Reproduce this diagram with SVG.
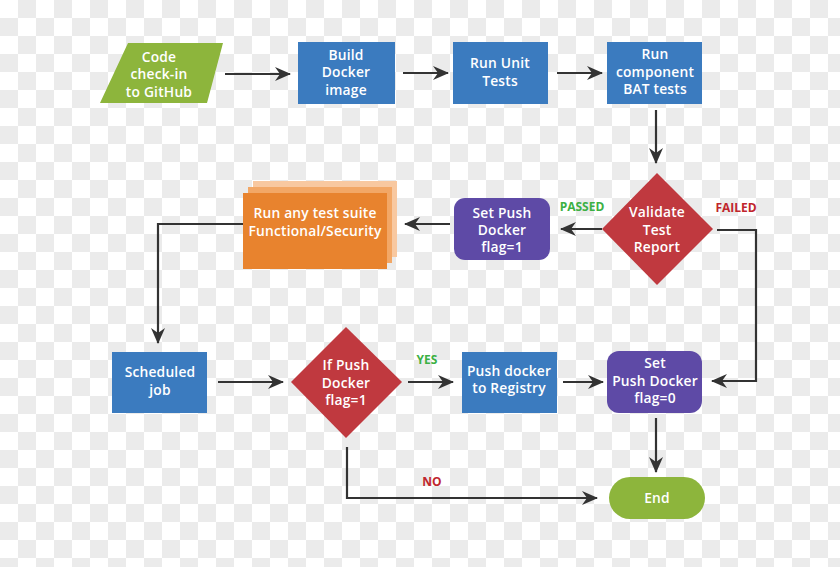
<svg xmlns="http://www.w3.org/2000/svg" width="840" height="567" viewBox="0 0 840 567">
<defs>
<pattern id="checker" x="0" y="0" width="36" height="36" patternUnits="userSpaceOnUse">
<rect width="36" height="36" fill="#ffffff"/>
<rect x="18" y="0" width="18" height="18" fill="#ebebeb"/>
<rect x="0" y="18" width="18" height="18" fill="#ebebeb"/>
</pattern>
<marker id="arr" markerUnits="userSpaceOnUse" viewBox="0 0 16 14" refX="15" refY="7" markerWidth="16" markerHeight="14" orient="auto">
<path d="M0,0 L16,7 L0,14 L5,7 Z" fill="#333333"/>
</marker>
</defs>
<style>
.t{font-family:"Open Sans","Liberation Sans",sans-serif;font-size:13.8px;font-weight:600;fill:#ffffff;text-anchor:middle;letter-spacing:0.2px}
.lbl{font-family:"Open Sans","Liberation Sans",sans-serif;font-size:12px;font-weight:700;text-anchor:middle}
.c{fill:none;stroke:#333333;stroke-width:2.2;marker-end:url(#arr)}
.blue{fill:#3b7bbf}
.red{fill:#c0393f}
.purple{fill:#5e4aa6}
.green{fill:#8db53c}
</style>
<rect width="840" height="567" fill="url(#checker)"/>

<g id="connectors">
<line class="c" x1="225" y1="74" x2="290" y2="74"/>
<line class="c" x1="403" y1="73" x2="448" y2="73"/>
<line class="c" x1="557" y1="73" x2="602" y2="73"/>
<line class="c" x1="656" y1="110" x2="656" y2="163"/>
<line class="c" x1="602" y1="229" x2="561" y2="229"/>
<polyline class="c" points="717,230 756,230 756,381 712,381"/>
<line class="c" x1="450" y1="224" x2="405" y2="224"/>
<polyline class="c" points="243,224 158,224 158,343"/>
<line class="c" x1="218" y1="382" x2="283" y2="382"/>
<line class="c" x1="408" y1="382" x2="453" y2="382"/>
<line class="c" x1="563" y1="382" x2="603" y2="382"/>
<line class="c" x1="656" y1="418" x2="656" y2="472"/>
<polyline class="c" points="347,447 347,498 597,498"/>
<text class="lbl" x="582" y="211" fill="#3cb043">PASSED</text>
<text class="lbl" x="736" y="212" fill="#c0262c">FAILED</text>
<text class="lbl" x="427" y="364" fill="#3cb043">YES</text>
<text class="lbl" x="432" y="486" fill="#c0262c">NO</text>
</g>

<g id="code-checkin">
<polygon class="green" points="128,43 223,43 207,103 100,103"/>
<text class="t" x="159" y="62">Code</text>
<text class="t" x="159" y="79">check-in</text>
<text class="t" x="159" y="97">to GitHub</text>
</g>

<g id="build-docker">
<rect class="blue" x="298" y="42" width="97" height="62"/>
<text class="t" x="346" y="60">Build</text>
<text class="t" x="346" y="77">Docker</text>
<text class="t" x="346" y="95">image</text>
</g>

<g id="run-unit">
<rect class="blue" x="453" y="42" width="95" height="62"/>
<text class="t" x="500" y="68">Run Unit</text>
<text class="t" x="500" y="86">Tests</text>
</g>

<g id="run-bat">
<rect class="blue" x="607" y="42" width="95" height="62"/>
<text class="t" x="655" y="59">Run</text>
<text class="t" x="655" y="77">component</text>
<text class="t" x="655" y="94">BAT tests</text>
</g>

<g id="validate">
<polygon class="red" points="657,173 713,229 657,285 602,229"/>
<text class="t" x="657" y="217">Validate</text>
<text class="t" x="657" y="235">Test</text>
<text class="t" x="657" y="252">Report</text>
</g>

<g id="set-flag1">
<rect class="purple" x="454" y="198" width="96" height="62" rx="11"/>
<text class="t" x="502" y="218">Set Push</text>
<text class="t" x="502" y="235">Docker</text>
<text class="t" x="502" y="252">flag=1</text>
</g>

<g id="test-suite">
<rect x="253" y="181" width="144" height="76" fill="#f8c8a0"/>
<rect x="248" y="187" width="144" height="76" fill="#f2a766"/>
<rect x="243" y="193" width="144" height="76" fill="#e8832e"/>
<text class="t" x="315" y="218">Run any test suite</text>
<text class="t" x="315" y="236">Functional/Security</text>
</g>

<g id="scheduled">
<rect class="blue" x="112" y="352" width="95" height="61"/>
<text class="t" x="160" y="377">Scheduled</text>
<text class="t" x="160" y="395">job</text>
</g>

<g id="if-push">
<polygon class="red" points="346,327 402,382 346,438 291,382"/>
<text class="t" x="346" y="370">If Push</text>
<text class="t" x="346" y="388">Docker</text>
<text class="t" x="346" y="405">flag=1</text>
</g>

<g id="push-registry">
<rect class="blue" x="462" y="352" width="95" height="61"/>
<text class="t" x="509" y="376">Push docker</text>
<text class="t" x="509" y="393">to Registry</text>
</g>

<g id="set-flag0">
<rect class="purple" x="607" y="351" width="95" height="62" rx="12"/>
<text class="t" x="655" y="368">Set</text>
<text class="t" x="655" y="386">Push Docker</text>
<text class="t" x="655" y="403">flag=0</text>
</g>

<g id="end">
<rect class="green" x="609" y="477" width="96" height="42" rx="21"/>
<text class="t" x="657" y="503">End</text>
</g>
</svg>
